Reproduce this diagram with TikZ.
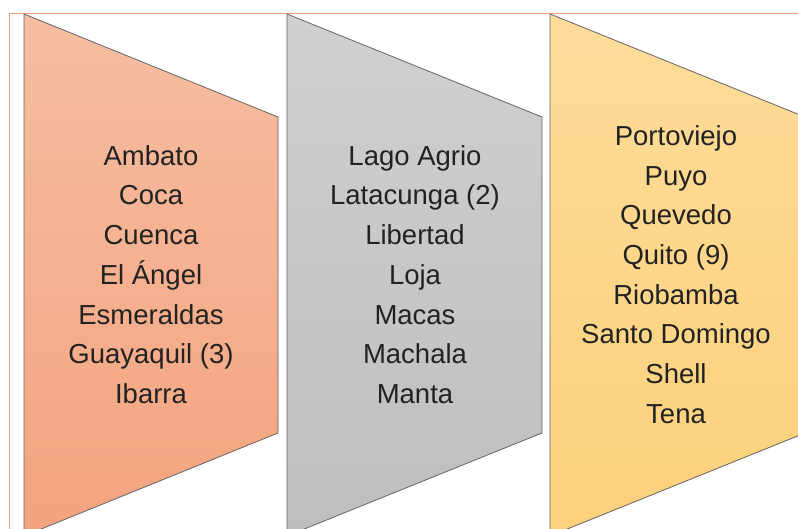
\documentclass[tikz,border=0pt]{standalone}
\usepackage{fontspec}
\setmainfont{Liberation Sans}
\definecolor{frameor}{RGB}{240,160,115}
\definecolor{edgegray}{RGB}{100,100,100}
\definecolor{txt}{RGB}{34,34,34}
\definecolor{s1top}{RGB}{246,190,162}
\definecolor{s1bot}{RGB}{244,163,126}
\definecolor{s2top}{RGB}{208,208,208}
\definecolor{s2bot}{RGB}{190,190,190}
\definecolor{s3top}{RGB}{253,220,154}
\definecolor{s3bot}{RGB}{253,208,122}
\tikzset{
  panel/.style={draw=edgegray, line width=0.8pt, line join=miter},
  citylist/.style={align=center, text=txt,
    font={\fontsize{27.5}{39.7}\selectfont}},
}
\begin{document}
\begin{tikzpicture}[x=1pt,y=1pt]
\useasboundingbox (0,0) rectangle (798,529);
\clip (0,0) rectangle (798,529);
\fill[white] (0,0) rectangle (798,529);
% frame lines
\draw[frameor, line width=1.5pt] (9.5,0) -- (9.5,515.7) -- (800,515.7);
% panels
\path[panel, top color=s1top, bottom color=s1bot]
  (24,515) -- (278,412) -- (278,96) -- (24,-7) -- cycle;
\path[panel, top color=s2top, bottom color=s2bot]
  (287,515) -- (542,412) -- (542,96) -- (287,-7) -- cycle;
\path[panel, top color=s3top, bottom color=s3bot]
  (550,515) -- (805,412) -- (805,96) -- (550,-7) -- cycle;
% texts
\node[citylist] (c1) at (151,254.5) {Ambato\\Coca\\Cuenca\\El Ángel\\Esmeraldas\\Guayaquil (3)\\Ibarra};
\node[citylist] (c2) at (415,254.5) {Lago Agrio\\Latacunga (2)\\Libertad\\Loja\\Macas\\Machala\\Manta};
\node[citylist] (c3) at (676,254.5) {Portoviejo\\Puyo\\Quevedo\\Quito (9)\\Riobamba\\Santo Domingo\\Shell\\Tena};
\end{tikzpicture}
\end{document}
